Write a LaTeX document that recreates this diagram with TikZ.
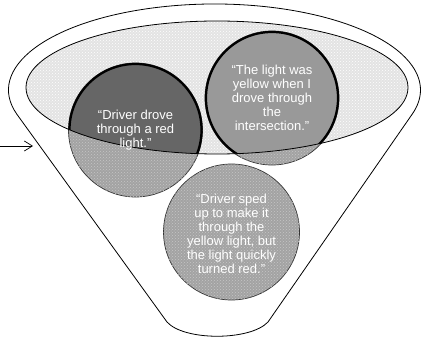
\documentclass[tikz,border=0pt]{standalone}
\usepackage{fontspec}
\setmainfont{Liberation Sans}
\usetikzlibrary{arrows.meta,shapes.geometric,patterns}
\tikzset{
  >=Latex,
  funnel/.style={draw, line width=0.8pt, fill=white},
  rimfill/.style={
    fill=gray!22, postaction={pattern=crosshatch dots, pattern color=white}
  },
  rimline/.style={draw, line width=0.8pt},
  meshfill/.style={
    fill=gray!72, postaction={pattern=crosshatch dots, pattern color=gray!45},
    draw=black!80, line width=0.7pt
  },
  solidfill/.style={fill=#1, draw, line width=2.2pt},
  talk/.style={
    circle, minimum size=134pt, align=center, text=white, inner sep=0pt,
    font=\fontsize{13}{14}\selectfont
  },
  arrow/.style={-{Straight Barb[length=8pt,width=10pt]}, line width=0.7pt}
}

\begin{document}
\begin{tikzpicture}[x=1pt, y=-1pt]
\useasboundingbox (0,0) rectangle (422,339);

% 1 : Entonnoir
\draw[funnel] (167,322) -- ([shift={(214.5,90)}]163.7:206 and 86)
  arc[start angle=163.7, end angle=376.3, x radius=206, y radius=86]
  -- (268,322) .. controls (250,341) and (184,341) .. cycle;

% 2 : Ouverture
\node[ellipse, minimum width=382pt, minimum height=133pt, rimfill] (rim) at (217,87.5) {};

% 3 : Centres des bulles
\coordinate (redc) at (135.5,130);
\coordinate (yellowc) at (272,98);
\coordinate (spedc) at (231.5,232);

% 4 : Bulles hors de l'ouverture
\fill[meshfill] (redc) circle[radius=67];
\fill[meshfill] (yellowc) circle[radius=67];
\fill[meshfill] (spedc) circle[radius=68];

% 5 : Bulles dans l'ouverture
\begin{scope}
  \clip (rim.center) ellipse[x radius=191, y radius=66.5];
  \path[solidfill=black!60] (redc) circle[radius=66];
  \path[solidfill=black!40] (yellowc) circle[radius=66];
\end{scope}
\draw[rimline] (rim.center) ellipse[x radius=191, y radius=66.5];

% 6 : Textes
\node[talk] (red) at (redc) {``Driver drove\\through a red\\light.''};
\node[talk] (yellow) at (yellowc) {``The light was\\yellow when I\\drove through\\the\\intersection.''};
\node[talk] (sped) at ([yshift=-2]spedc) {``Driver sped\\up to make it\\through the\\yellow light, but\\the light quickly\\turned red.''};

% 7 : Fleche
\coordinate (arrowtail) at (0,146);
\coordinate (arrowtip) at (33,146);
\draw[arrow] (arrowtail) -- (arrowtip);

\end{tikzpicture}
\end{document}
